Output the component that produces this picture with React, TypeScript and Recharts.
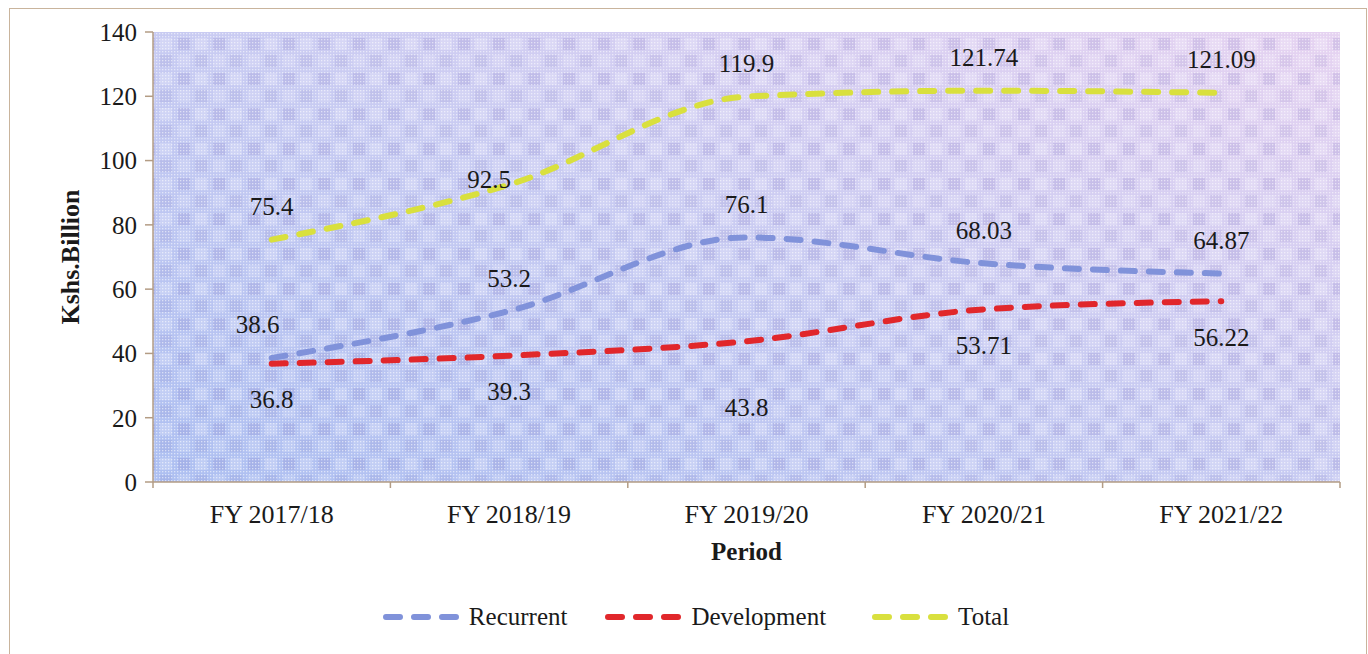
import React from "react"
import { CartesianGrid, LabelList, Legend, Line, LineChart, XAxis, YAxis } from "recharts"

const periods = ["FY 2017/18", "FY 2018/19", "FY 2019/20", "FY 2020/21", "FY 2021/22"]
const recurrent = [38.6, 53.2, 76.1, 68.03, 64.87]
const development = [36.8, 39.3, 43.8, 53.71, 56.22]
const total = [75.4, 92.5, 119.9, 121.74, 121.09]
const yTicks = [0, 20, 40, 60, 80, 100, 120, 140]

const data = periods.map((period, i) => ({
  period,
  recurrent: recurrent[i],
  development: development[i],
  total: total[i],
}))

const FONT = "'Liberation Serif', 'Times New Roman', serif"
const AXIS = "#b39c84"
const BLUE = "#8092da"
const RED = "#e1272b"
const YELLOW = "#d9e03e"
const PLOT_W = 1187
const BAND = PLOT_W / periods.length

// label placement (dy: px from the point, + is down), a few were moved by hand in the original
const series = [
  { key: "recurrent", name: "Recurrent", color: BLUE, dy: -33, nudge: { 0: [-14, 0] }, gap: 0 },
  { key: "development", name: "Development", color: RED, dy: 36, nudge: { 2: [0, 30] }, gap: 38 },
  { key: "total", name: "Total", color: YELLOW, dy: -33, nudge: { 1: [-20, 28] }, gap: 46 },
] as const

const PeriodTick = ({ x, y, payload, index }: any) => {
  const top = y - 8
  return (
    <g>
      <line x1={x - BAND / 2} y1={top} x2={x - BAND / 2} y2={top + 6} stroke={AXIS} strokeWidth={1.5} />
      {index === periods.length - 1 && (
        <line x1={x + BAND / 2} y1={top} x2={x + BAND / 2} y2={top + 6} stroke={AXIS} strokeWidth={1.5} />
      )}
      <text x={x} y={y + 33} textAnchor="middle" fontSize={26} fontFamily={FONT} fill="#1a1a1a">
        {payload.value}
      </text>
    </g>
  )
}

const makeLabel = (dy: number, nudge: Record<number, readonly number[]>) => (props: any) => {
  const { x, y, value, index } = props
  const [ndx, ndy] = nudge[index] ?? [0, 0]
  return (
    <text
      x={x + ndx}
      y={y + dy + ndy}
      textAnchor="middle"
      dominantBaseline="central"
      fontFamily={FONT}
      fontSize={25}
      fill="#1a1a1a"
    >
      {value}
    </text>
  )
}

const LegendContent = () => (
  <div style={{ display: "flex", justifyContent: "center", alignItems: "center", paddingLeft: 24 }}>
    {series.map((s) => (
      <div key={s.key} style={{ display: "flex", alignItems: "center", gap: 10, marginLeft: s.gap }}>
        <svg width={76} height={12}>
          <line
            x1={3}
            y1={6}
            x2={73}
            y2={6}
            stroke={s.color}
            strokeWidth={6}
            strokeLinecap="round"
            strokeDasharray="14 14"
          />
        </svg>
        <span style={{ fontFamily: FONT, fontSize: 25, color: "#1a1a1a" }}>{s.name}</span>
      </div>
    ))}
  </div>
)

export default function App() {
  return (
    <div
      style={{
        position: "absolute",
        left: 0,
        top: 0,
        width: 1368,
        height: 654,
        background: "#fff",
        overflow: "hidden",
      }}
    >
      <div
        style={{
          position: "absolute",
          left: 9,
          top: 8,
          width: 1356,
          height: 680,
          border: "1.5px solid #c9b49c",
        }}
      />
      <LineChart width={1368} height={654} data={data} margin={{ top: 32, right: 28, left: 0, bottom: 92 }}>
        <defs>
          <linearGradient id="bgGrad" x1="0" y1="1" x2="1" y2="0">
            <stop offset="0%" stopColor="#adbff1" />
            <stop offset="50%" stopColor="#c8cbf2" />
            <stop offset="100%" stopColor="#e6d3f1" />
          </linearGradient>
          <pattern id="checker" width="35" height="35" patternUnits="userSpaceOnUse">
            <rect x="3" y="3" width="12" height="12" fill="rgba(90,80,170,0.13)" />
            <rect x="20" y="20" width="12" height="12" fill="rgba(90,80,170,0.09)" />
            <rect x="20" y="3" width="12" height="12" fill="rgba(255,255,255,0.2)" />
            <rect x="3" y="20" width="12" height="12" fill="rgba(255,255,255,0.14)" />
          </pattern>
          <pattern id="dots" width="3" height="3" patternUnits="userSpaceOnUse">
            <rect x="0" y="0" width="1.3" height="1.3" fill="rgba(255,255,255,0.55)" />
          </pattern>
        </defs>
        <CartesianGrid fill="url(#bgGrad)" fillOpacity={1} horizontal={false} vertical={false} />
        <CartesianGrid fill="url(#checker)" fillOpacity={1} horizontal={false} vertical={false} />
        <CartesianGrid fill="url(#dots)" fillOpacity={1} horizontal={false} vertical={false} />
        <XAxis
          dataKey="period"
          height={80}
          padding={{ left: BAND / 2, right: BAND / 2 }}
          axisLine={{ stroke: AXIS, strokeWidth: 1.5 }}
          tickLine={false}
          tick={<PeriodTick />}
          interval={0}
          label={{
            value: "Period",
            position: "insideBottom",
            offset: 2,
            style: { fontFamily: FONT, fontSize: 25, fontWeight: "bold", fill: "#1a1a1a" },
          }}
        />
        <YAxis
          width={153}
          domain={[0, 140]}
          ticks={yTicks}
          axisLine={{ stroke: AXIS, strokeWidth: 1.5 }}
          tickLine={{ stroke: AXIS, strokeWidth: 1.5 }}
          tickSize={8}
          tickMargin={8}
          tick={{ fontFamily: FONT, fontSize: 25, fill: "#1a1a1a" }}
          label={{
            value: "Kshs.Billion",
            angle: -90,
            position: "insideLeft",
            offset: 70,
            style: { fontFamily: FONT, fontSize: 26, fontWeight: "bold", fill: "#1a1a1a", textAnchor: "middle" },
          }}
        />
        <Legend
          verticalAlign="middle"
          layout="horizontal"
          content={<LegendContent />}
          wrapperStyle={{ top: 603, left: 0, width: 1368 }}
        />
        {series.map((s) => (
          <Line
            key={s.key}
            type="monotone"
            dataKey={s.key}
            name={s.name}
            stroke={s.color}
            strokeWidth={6}
            strokeLinecap="round"
            strokeDasharray="14 14"
            dot={false}
            activeDot={false}
            isAnimationActive={false}
          >
            <LabelList dataKey={s.key} content={makeLabel(s.dy, s.nudge as any)} />
          </Line>
        ))}
      </LineChart>
    </div>
  )
}
